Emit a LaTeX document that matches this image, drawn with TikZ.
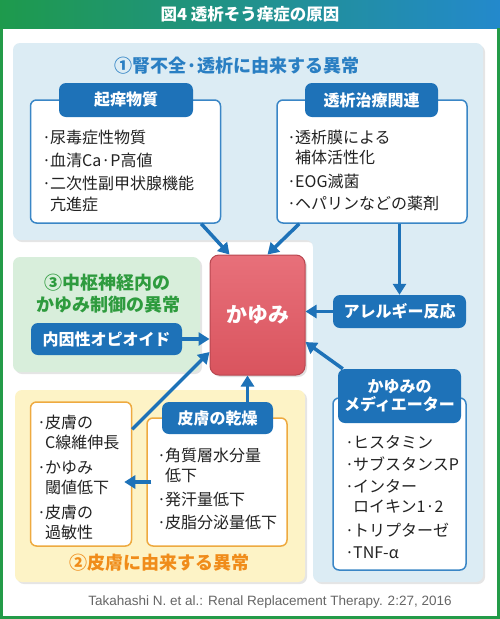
\documentclass[tikz,border=0pt]{standalone}
\usepackage{fontspec}
\setmainfont{Noto Sans CJK JP}
\newfontfamily\citefont{Liberation Sans}
\usetikzlibrary{arrows.meta,shadows}
\definecolor{titlegreen}{HTML}{1E9A4C}
\definecolor{titleblue}{HTML}{2389CC}
\definecolor{framegreen}{HTML}{239B48}
\definecolor{regionblue}{HTML}{DCECF4}
\definecolor{regiongreen}{HTML}{D8EEDB}
\definecolor{regionyellow}{HTML}{FDF3C6}
\definecolor{tabblue}{HTML}{1E72B8}
\definecolor{boxblue}{HTML}{3A86C6}
\definecolor{boxorange}{HTML}{EEAA40}
\definecolor{headblue}{HTML}{2A7FC3}
\definecolor{headgreen}{HTML}{2E9B3E}
\definecolor{headorange}{HTML}{F08C1A}
\definecolor{textdark}{HTML}{222222}
\definecolor{citegray}{HTML}{666666}
\definecolor{kayumitop}{HTML}{E8707A}
\definecolor{kayumibot}{HTML}{D9545E}
\newcommand\bul{\makebox[7pt][c]{·}}
\newcommand\ind{\hspace*{7pt}}
\begin{document}
\begin{tikzpicture}[x=1pt,y=-1pt,
  region/.style={rounded corners=7pt,drop shadow={shadow xshift=2pt,shadow yshift=-2pt,opacity=0.2}},
  heading/.style={font=\bfseries\fontsize{18}{22}\selectfont,align=center},
  tab/.style={fill=tabblue,rounded corners=7pt,text=white,font=\bfseries\fontsize{16}{18}\selectfont},
  bluebox/.style={draw=boxblue,fill=white,line width=1.5pt,rounded corners=6pt},
  orangebox/.style={draw=boxorange,fill=white,line width=1.5pt,rounded corners=6pt},
  body/.style={anchor=north west,inner sep=0pt,align=left,text=textdark,font=\fontsize{16}{20}\selectfont},
  arr/.style={draw=tabblue,line width=3.5pt,-{Triangle[length=11pt,width=13pt]}}]
\useasboundingbox (0,0) rectangle (500,619);
\fill[white] (0,0) rectangle (500,619);
\shade[left color=titlegreen,right color=titleblue] (0,0) rectangle (500,28);
\node[text=white,font=\bfseries\fontsize{16.5}{18}\selectfont] (title) at (250,14) {図4 透析そう痒症の原因};
\draw[framegreen,line width=3pt] (1.5,28) -- (1.5,617.5) -- (498.5,617.5) -- (498.5,28);

\path[region,fill=regionblue] (13,43) -- (483,43) -- (483,582) -- (313,582) -- (313,240) -- (13,240) -- cycle;
\path[region,fill=regiongreen] (13,257) rectangle (200,372);
\path[region,fill=regionyellow] (15,390) rectangle (305,582);

\node[heading,text=headblue] (renal) at (237,66) {①腎不全·透析に由来する異常};
\node[heading,text=headgreen] (central) at (108,294) {③中枢神経内の\\かゆみ制御の異常};
\node[heading,text=headorange] (skin) at (159,563) {②皮膚に由来する異常};

\node[bluebox,minimum width=190,minimum height=123] (kiyou) at (125.5,161.5) {};
\node[tab,minimum width=134,minimum height=34] (kiyoutab) at (126,100) {起痒物質};
\node[body] (kiyoutext) at (43,130) {\bul 尿毒症性物質\\[3pt]\bul 血清Ca·P高値\\[3pt]\bul 二次性副甲状腺機能\\[1pt]\ind 亢進症};

\node[bluebox,minimum width=190,minimum height=123] (touseki) at (372,161.5) {};
\node[tab,minimum width=133,minimum height=34] (tousekitab) at (371.5,100) {透析治療関連};
\node[body] (tousekitext) at (288,130) {\bul 透析膜による\\\ind 補体活性化\\[4pt]\bul EOG滅菌\\[2pt]\bul ヘパリンなどの薬剤};

\node[top color=kayumitop,bottom color=kayumibot,draw=kayumibot!85!black,line width=1pt,rounded corners=9pt,
  minimum width=95,minimum height=120,text=white,font=\bfseries\fontsize{21}{24}\selectfont,
  drop shadow={shadow xshift=2pt,shadow yshift=-2pt,opacity=0.25}] (kayumi) at (257.5,315) {かゆみ};
\node[tab,minimum width=151,minimum height=32] (opioid) at (106.5,339) {内因性オピオイド};
\node[tab,minimum width=133,minimum height=33] (allergy) at (399.5,311.5) {アレルギー反応};

\node[orangebox,minimum width=101,minimum height=144] (hifu) at (81,474) {};
\node[body] (hifutext) at (38,415) {\bul 皮膚の\\\ind C線維伸長\\[5pt]\bul かゆみ\\\ind 閾値低下\\[5pt]\bul 皮膚の\\\ind 過敏性};

\node[orangebox,minimum width=140,minimum height=128] (kansou) at (217,482) {};
\node[tab,minimum width=111,minimum height=32] (kansoutab) at (217.5,418) {皮膚の乾燥};
\node[body] (kansoutext) at (158,448) {\bul 角質層水分量\\\ind 低下\\[4pt]\bul 発汗量低下\\[3pt]\bul 皮脂分泌量低下};

\node[bluebox,minimum width=133,minimum height=172] (mediator) at (399.5,484) {};
\node[tab,align=center,minimum width=123,minimum height=54] (meditab) at (399.5,396) {かゆみの\\メディエーター};
\node[body] (meditext) at (346,435) {\bul ヒスタミン\\[2pt]\bul サブスタンスP\\[2pt]\bul インター\\\ind ロイキン1·2\\[4pt]\bul トリプターゼ\\[2pt]\bul TNF-α};

\node[text=citegray,font=\citefont\fontsize{13.5}{16}\selectfont] (ref) at (270,602) {Takahashi N. et al.: Renal Replacement Therapy. 2:27, 2016};

\draw[arr] ([xshift=-20pt]kiyou.south east) -- ([xshift=20pt]kayumi.north west);
\draw[arr] ([xshift=23pt]touseki.south west) -- ([xshift=-38pt]kayumi.north east);
\draw[arr] (allergy.north |- touseki.south) -- (allergy.north);
\draw[arr] (allergy.west) -- (allergy.west -| kayumi.east);
\draw[arr] (opioid.east) -- (opioid.east -| kayumi.west);
\draw[arr] ([yshift=-28pt]hifu.north east) -- ([yshift=-37pt]kayumi.west);
\draw[arr] ([xshift=30pt]kansoutab.north) -- ([xshift=-10pt]kayumi.south);
\draw[arr] ([xshift=5pt]meditab.north west) -- ([yshift=-27pt]kayumi.east);
\draw[arr,shorten <=-5pt,shorten >=-8pt] (kansou.west) -- (kansou.west -| hifu.east);
\end{tikzpicture}
\end{document}
